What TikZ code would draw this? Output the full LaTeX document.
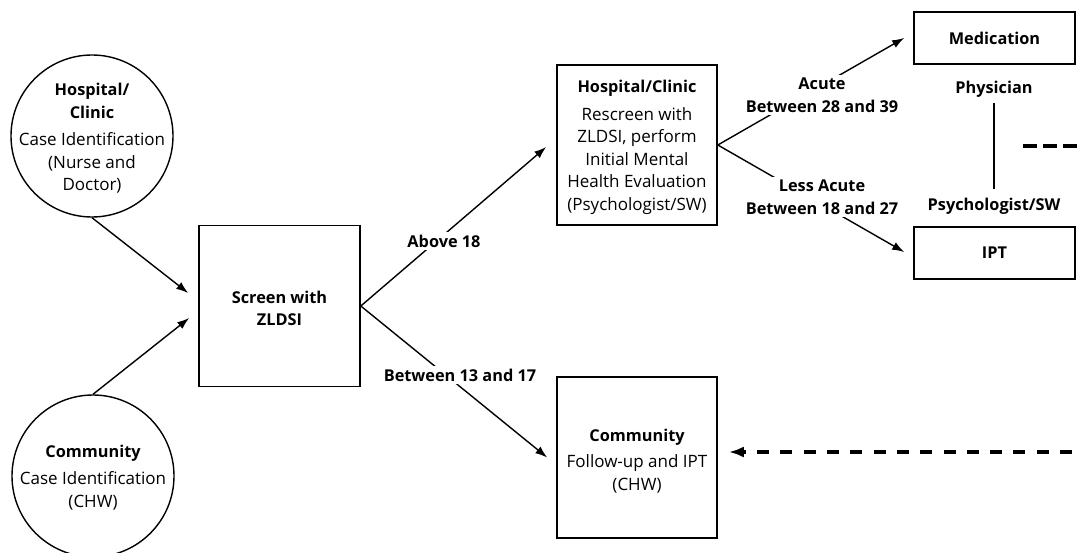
\documentclass[tikz,border=0pt]{standalone}
\usepackage{fontspec}
\setmainfont{Open Sans}
\usetikzlibrary{arrows.meta,calc}
\newcommand\bt[1]{{\fontsize{16.3}{22.5}\selectfont\bfseries #1}}
\begin{document}
\begin{tikzpicture}[x=1pt,y=-1pt, font=\fontsize{17}{22.5}\selectfont,
 box/.style={draw, line width=1.6pt, inner sep=0, rectangle},
 circ/.style={draw, circle, line width=1.4pt, minimum size=162pt, inner sep=0},
 txt/.style={align=center, inner sep=1pt},
 lbl/.style={align=center, font=\fontsize{16.3}{23}\selectfont\bfseries, fill=white, inner sep=3pt},
 arr/.style={line width=1.4pt, -{Latex[length=12pt,width=8.5pt]}},
 dashline/.style={line width=3.5pt, dash pattern=on 12pt off 11.3pt}]
\useasboundingbox (0,0) rectangle (1083,553);
% circles
\node[circ] (hc) at (92,136) {};
\node[txt] (hct) at (92,138.5) {\bt{Hospital/}\\\bt{Clinic}\\[5pt]Case Identification\\(Nurse and\\Doctor)};
\node[circ] (cc) at (93,476) {};
\node[txt] (cct) at (93,477.5) {\bt{Community}\\[5pt]Case Identification\\(CHW)};
% boxes
\node[box, minimum width=161pt, minimum height=161pt] (scr) at (279.5,306) {};
\node[txt] (scrt) at (279.5,308.5) {\bt{Screen with}\\\bt{ZLDSI}};
\node[box, minimum width=160pt, minimum height=160pt] (hb) at (637,145) {};
\node[txt] (hbt) at (637,147.5) {\bt{Hospital/Clinic}\\[5pt]Rescreen with\\ZLDSI, perform\\Initial Mental\\Health Evaluation\\(Psychologist/SW)};
\node[box, minimum width=161pt, minimum height=52pt] (med) at (994.5,38) {\bt{Medication}};
\node[box, minimum width=161pt, minimum height=52pt] (ipt) at (994.5,253) {\bt{IPT}};
\node[box, minimum width=160pt, minimum height=161pt] (cb) at (637,457.5) {};
\node[txt] (cbt) at (637,461) {\bt{Community}\\[4pt]Follow-up and IPT\\(CHW)};
\node[txt] (phys) at (994,89) {\bt{Physician}};
\node[txt] (psy) at (994,206) {\bt{Psychologist/SW}};
% coordinates
\coordinate (edgeA) at (1083,146);
\coordinate (edgeB) at (1072,452);
\coordinate (dA) at (1023,146);
% connectors
\draw[arr] (hc.south) -- ($(scr.west)+(-10,-13)$);
\draw[arr] (cc.north) -- ($(scr.west)+(-9,12)$);
\draw[arr] (scr.east) -- ($(hb.west)+(-10,2)$);
\draw[arr] (scr.east) -- ($(cb.west)+(-9,0)$);
\draw[arr] (hb.east) -- ($(med.west)+(-9,0)$);
\draw[arr] (hb.east) -- ($(ipt.west)+(-9,-1)$);
\draw[line width=1.4pt, shorten <=5pt, shorten >=8pt] (phys.south) -- (psy.north);
\draw[line width=3.5pt, dash pattern=on 14pt off 6pt] (dA) -- (edgeA);
\draw[dashline, -{Latex[length=15pt,width=11pt]}] (edgeB) -- ($(cb.east)+(11,-5.5)$);
% labels
\node[lbl] (l1) at (444,241) {Above 18};
\node[lbl] (l2) at (460,375) {Between 13 and 17};
\node[lbl] (l3) at (822,95) {Acute\\Between 28 and 39};
\node[lbl] (l4) at (822,197) {Less Acute\\Between 18 and 27};
\end{tikzpicture}
\end{document}
